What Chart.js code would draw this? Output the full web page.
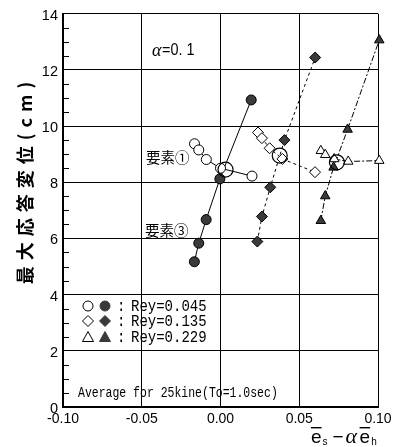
<!DOCTYPE html>
<html>
<head>
<meta charset="utf-8">
<script src="https://cdn.jsdelivr.net/npm/chart.js@4.4.1/dist/chart.umd.min.js"></script>
<style>
  html, body { margin: 0; padding: 0; background: #fff; }
  #wrap { width: 403px; height: 447px; position: relative; }
</style>
</head>
<body>
<div id="wrap"><canvas id="c" width="403" height="447"></canvas></div>
<script>
// Axis tick labels
const xTickLabels = ['-0.10', '-0.05', '0.00', '0.05', '0.10'];
const yTickLabels = ['0', '2', '4', '6', '8', '10', '12', '14'];

// Legend entries
const reyLabels = ['Rey=0.045', 'Rey=0.135', 'Rey=0.229'];

// Rey=0.045 : 要素① (open) and 要素③ (filled)
const circOpenX = [-0.0165, -0.0138, -0.0090, 0.0000, 0.0200];
const circOpenY = [9.37, 9.15, 8.81, 8.50, 8.22];
const circFillX = [-0.0166, -0.0138, -0.0091, -0.0004, 0.0195];
const circFillY = [5.17, 5.83, 6.67, 8.12, 10.93];

// Rey=0.135
const diaOpenX = [0.0238, 0.0263, 0.0312, 0.0393, 0.0600];
const diaOpenY = [9.77, 9.57, 9.21, 8.83, 8.36];
const diaFillX = [0.0234, 0.0263, 0.0316, 0.0406, 0.0601];
const diaFillY = [5.89, 6.78, 7.82, 9.50, 12.44];

// Rey=0.229
const triOpenX = [0.0637, 0.0665, 0.0722, 0.0811, 0.1008];
const triOpenY = [9.12, 8.98, 8.83, 8.74, 8.77];
const triFillX = [0.0637, 0.0665, 0.0718, 0.0807, 0.1008];
const triFillY = [6.63, 7.51, 8.53, 9.88, 13.06];

// Averages (large open circles)
const avgX = [0.0032, 0.0376, 0.0739];
const avgY = [8.45, 8.95, 8.71];

const pts = (xs, ys) => xs.map((x, i) => ({ x, y: ys[i] }));

const DARK = '#3a3a3a';
const JP = '"Noto Sans CJK JP", sans-serif';

function series(xs, ys, style, filled, dash, radius) {
  return {
    data: pts(xs, ys),
    showLine: true,
    clip: false,
    borderColor: '#000',
    borderWidth: 1,
    borderDash: dash,
    pointStyle: style,
    pointRadius: radius,
    pointBorderWidth: 1,
    pointBorderColor: '#000',
    pointBackgroundColor: filled ? DARK : '#fff',
    fill: false
  };
}

const dashDiamond = [3, 3];
const dashTriangle = [6, 2, 2, 2];

// condensed text helper: draws text squeezed horizontally
function squeezed(ctx, text, x, y, sx) {
  ctx.save();
  ctx.translate(x, y);
  ctx.scale(sx, 1);
  ctx.fillText(text, 0, 0);
  ctx.restore();
}

// Annotation texts, legend rows and axis titles
const overlay = {
  id: 'overlay',
  afterDraw(chart) {
    const ctx = chart.ctx;
    const ys = chart.scales.y;
    const area = chart.chartArea;
    ctx.save();

    // minor ticks on the left axis, pointing into the plot
    ctx.strokeStyle = '#000';
    ctx.lineWidth = 1;
    for (let v = 0.5; v < 14; v += 0.5) {
      if (Math.abs(v / 2 - Math.round(v / 2)) < 1e-6) continue;
      const py = Math.round(ys.getPixelForValue(v)) + 0.5;
      ctx.beginPath();
      ctx.moveTo(area.left, py);
      ctx.lineTo(area.left + 6, py);
      ctx.stroke();
    }

    ctx.fillStyle = '#000';
    ctx.textBaseline = 'middle';
    ctx.textAlign = 'left';

    // α = 0.1
    ctx.font = 'italic 18px "Liberation Serif"';
    ctx.fillText('α', 152, 51);
    ctx.font = '16px "Liberation Sans"';
    squeezed(ctx, '=0. 1', 162, 51, 0.9);

    // element labels
    ctx.font = '14.5px ' + JP;
    ctx.fillText('要素①', 146, 157);
    ctx.fillText('要素③', 145, 230);

    // legend
    const rowsY = [306, 321, 337];
    const mx1 = 88, mx2 = 105;
    ctx.lineWidth = 1;
    rowsY.forEach((ry, i) => {
      [false, true].forEach((filled, k) => {
        const cx = k ? mx2 : mx1;
        ctx.beginPath();
        if (i === 0) {
          ctx.arc(cx, ry, 5, 0, Math.PI * 2);
        } else if (i === 1) {
          ctx.moveTo(cx, ry - 5.5); ctx.lineTo(cx + 5.5, ry);
          ctx.lineTo(cx, ry + 5.5); ctx.lineTo(cx - 5.5, ry); ctx.closePath();
        } else {
          ctx.moveTo(cx, ry - 5.5); ctx.lineTo(cx + 5.5, ry + 4.5);
          ctx.lineTo(cx - 5.5, ry + 4.5); ctx.closePath();
        }
        ctx.fillStyle = filled ? DARK : '#fff';
        ctx.fill();
        ctx.strokeStyle = filled ? DARK : '#000';
        ctx.stroke();
      });
      ctx.fillStyle = '#000';
      ctx.font = '16px "Liberation Mono"';
      squeezed(ctx, ':', 117, ry + 1, 0.875);
      squeezed(ctx, reyLabels[i], 131, ry + 1, 0.875);
    });

    // footnote
    ctx.font = '14px "Liberation Mono"';
    squeezed(ctx, 'Average for 25kine(To=1.0sec)', 78, 393, 0.82);

    // y axis title, rotated
    ctx.save();
    ctx.translate(25, 180);
    ctx.rotate(-Math.PI / 2);
    ctx.textAlign = 'center';
    ctx.font = 'bold 18px ' + JP;
    ctx.letterSpacing = '6px';
    ctx.fillText('最大応答変位(cm)', 0, 0);
    ctx.restore();

    // x axis title: ē_s − α ē_h
    ctx.textBaseline = 'alphabetic';
    ctx.font = '19px "Liberation Sans"';
    const base = 443;
    const barE = (x) => {
      const w = ctx.measureText('e').width;
      ctx.fillText('e', x, base);
      ctx.fillRect(x, base - 16, w, 1.4);
      return w;
    };
    let x = 311;
    x += barE(x) + 1;
    ctx.font = '10px "Liberation Sans"';
    ctx.fillText('s', x, base + 2);
    x += 10;
    ctx.font = '19px "Liberation Sans"';
    ctx.fillText('−', x, base);
    x += 13;
    ctx.font = 'italic 22px "Liberation Serif"';
    ctx.fillText('α', x, base);
    x += 14;
    ctx.font = '19px "Liberation Sans"';
    x += barE(x) + 1;
    ctx.font = '10px "Liberation Sans"';
    ctx.fillText('h', x, base + 2);

    ctx.restore();
  }
};

new Chart(document.getElementById('c'), {
  type: 'scatter',
  data: {
    datasets: [
      {
        data: pts(avgX, avgY),
        showLine: false,
        clip: false,
        pointStyle: 'circle',
        pointRadius: 7.5,
        pointBorderWidth: 1.2,
        pointBorderColor: '#000',
        pointBackgroundColor: 'rgba(0,0,0,0)'
      },
      series(circOpenX, circOpenY, 'circle', false, [], 5),
      series(circFillX, circFillY, 'circle', true, [], 5),
      series(diaOpenX, diaOpenY, 'rectRot', false, dashDiamond, 5.5),
      series(diaFillX, diaFillY, 'rectRot', true, dashDiamond, 5.5),
      series(triOpenX, triOpenY, 'triangle', false, dashTriangle, 5.5),
      series(triFillX, triFillY, 'triangle', true, dashTriangle, 5.5)
    ]
  },
  options: {
    responsive: false,
    animation: false,
    devicePixelRatio: 1,
    layout: { padding: { top: 10, right: 25, left: 0, bottom: 0 } },
    plugins: { legend: { display: false }, tooltip: { enabled: false } },
    scales: {
      x: {
        type: 'linear',
        min: -0.1,
        max: 0.1,
        ticks: {
          stepSize: 0.05,
          autoSkip: false,
          maxRotation: 0,
          padding: 4,
          color: '#000',
          font: { family: 'Liberation Sans', size: 14 },
          callback: (v, i) => xTickLabels[i]
        },
        grid: { color: '#000', lineWidth: 1, drawTicks: false },
        border: { color: '#000', width: 2 },
        afterFit: (s) => { s.height = 40; }
      },
      y: {
        type: 'linear',
        min: 0,
        max: 14,
        ticks: {
          stepSize: 2,
          autoSkip: false,
          padding: 5,
          labelOffset: 2,
          color: '#000',
          font: { family: 'Liberation Sans', size: 14.5 },
          callback: (v, i) => yTickLabels[i]
        },
        grid: { color: '#000', lineWidth: 1, drawTicks: false },
        border: { color: '#000', width: 2 },
        afterFit: (s) => { s.width = 63; }
      }
    }
  },
  plugins: [overlay]
});
</script>
</body>
</html>
